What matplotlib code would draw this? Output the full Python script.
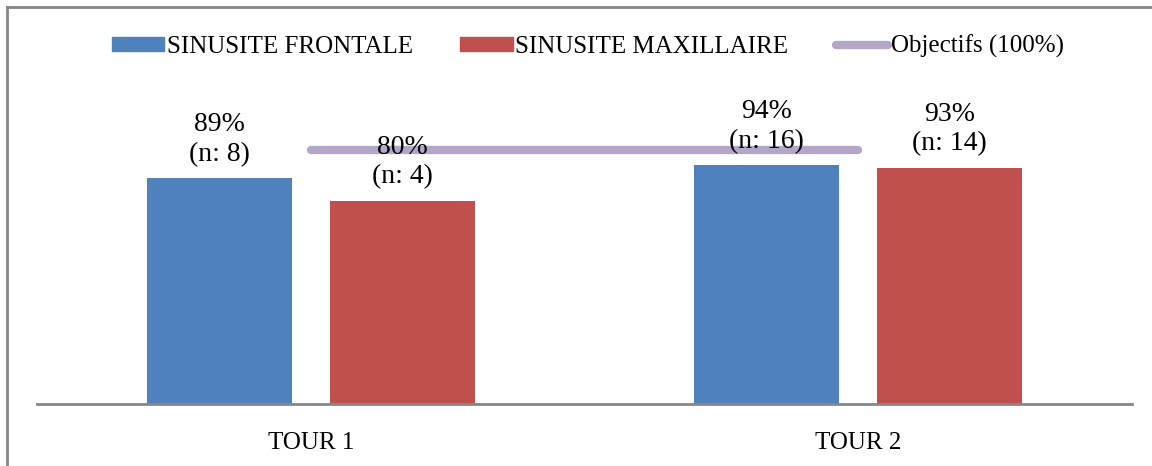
import matplotlib.pyplot as plt
import matplotlib.lines as mlines
import matplotlib.patches as mpatches
import numpy as np

# data
categories = ['TOUR 1', 'TOUR 2']
frontale = [89, 94]
frontale_n = [8, 16]
maxillaire = [80, 93]
maxillaire_n = [4, 14]
objectif = [100, 100]

blue = '#4F81BD'
red = '#C0504D'
purple = '#B3A6C6'
gray = '#868686'

plt.rcParams['font.family'] = ['Liberation Serif', 'DejaVu Serif']

fig = plt.figure(figsize=(11.52, 4.66), dpi=100)
ax = fig.add_axes([0.0321, 0.133, 0.9505, 0.6546])

x = np.arange(len(categories))
w = 0.265
off = 0.167

ax.bar(x - off, frontale, w, color=blue, zorder=2)
ax.bar(x + off, maxillaire, w, color=red, zorder=2)
ax.plot(x, objectif, color=purple, lw=6, solid_capstyle='round', zorder=3)

for xi, v, n in zip(x - off, frontale, frontale_n):
    ax.annotate(f'{v}%\n(n: {n})', (xi, v), xytext=(0, 8), textcoords='offset points',
                ha='center', va='bottom', fontsize=20, linespacing=1.25, zorder=4)
for xi, v, n in zip(x + off, maxillaire, maxillaire_n):
    ax.annotate(f'{v}%\n(n: {n})', (xi, v), xytext=(0, 8), textcoords='offset points',
                ha='center', va='bottom', fontsize=20, linespacing=1.25, zorder=4)

ax.set_xlim(-0.5, 1.5)
ax.set_ylim(0, 120)
ax.set_xticks(x)
ax.set_xticklabels(categories, fontsize=18)
ax.tick_params(axis='x', length=0, pad=20)
ax.set_yticks([])
for s in ['top', 'right', 'left']:
    ax.spines[s].set_visible(False)
ax.spines['bottom'].set_color(gray)
ax.spines['bottom'].set_linewidth(2)

handles = [mpatches.Patch(color=blue, label='SINUSITE FRONTALE'),
           mpatches.Patch(color=red, label='SINUSITE MAXILLAIRE'),
           mlines.Line2D([], [], color=purple, lw=6, solid_capstyle='round', label='Objectifs (100%)')]
fig.legend(handles=handles, loc='center', bbox_to_anchor=(0.51, 0.9), ncol=3, frameon=False,
           fontsize=18, handlelength=2.1, handleheight=0.5, handletextpad=0.1, columnspacing=1.9)

# outer chart border (top and left visible in the reference)
fig.add_artist(mlines.Line2D([0.0065, 1.0], [0.9860, 0.9860], color=gray, lw=2, transform=fig.transFigure))
fig.add_artist(mlines.Line2D([0.0065, 0.0065], [0.0, 0.9860], color=gray, lw=2, transform=fig.transFigure))

fig.savefig('out.png', dpi=100)
